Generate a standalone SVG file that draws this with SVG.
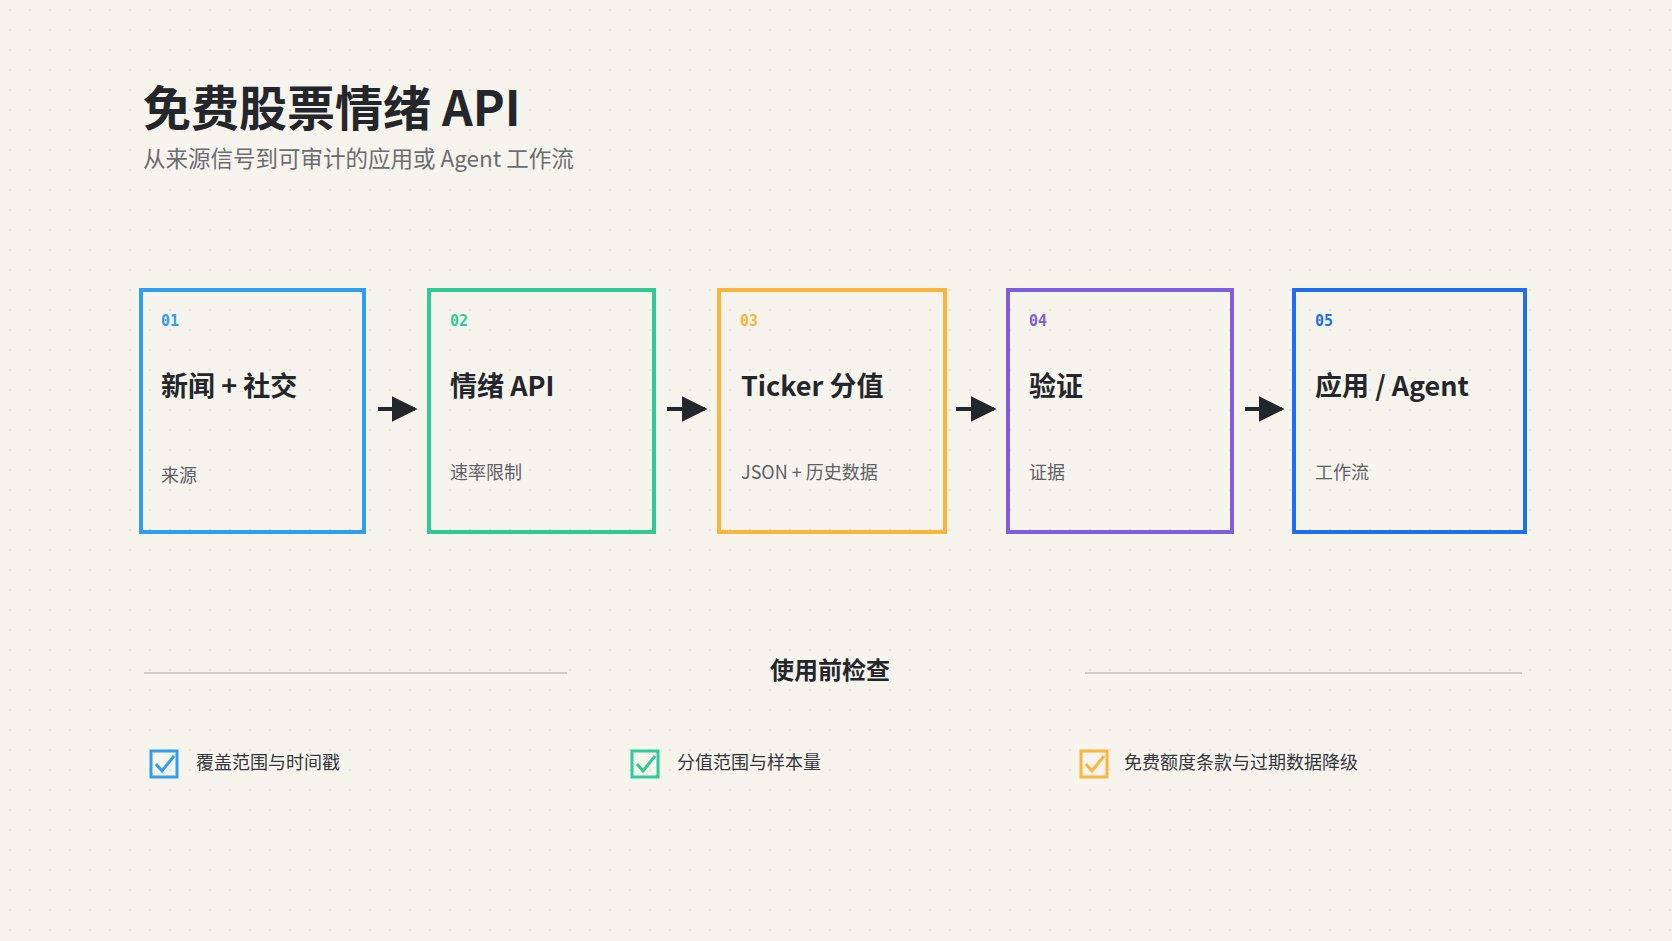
<svg xmlns="http://www.w3.org/2000/svg" width="1672" height="941" viewBox="0 0 1672 941">
<defs>
<pattern id="dots" width="20" height="20" patternUnits="userSpaceOnUse"><circle cx="10" cy="10" r="1" fill="#e3ded4"/></pattern>
<marker id="ah" viewBox="0 0 10 10" refX="9" refY="5" markerWidth="6.5" markerHeight="6.5" orient="auto" markerUnits="strokeWidth"><path d="M0,0 L10,5 L0,10 z" fill="#23262b"/></marker>
<style>
.f{font-family:"Noto Sans CJK SC","Noto Sans",sans-serif}
.num{font-family:"DejaVu Sans Mono",monospace;font-size:15px;font-weight:bold}
.t{font-size:27px;font-weight:bold;fill:#23262b}
.s{font-size:18px;fill:#5d6066}
.box{fill:none;stroke-width:4}
.ck{font-size:18px;fill:#33363b}
.cb{fill:none;stroke-width:3}
</style>
</defs>
<rect width="1672" height="941" fill="#f7f4ee"/>
<rect width="1672" height="941" fill="url(#dots)"/>
<text class="f" x="143" y="126" font-size="48" font-weight="bold" fill="#23262b">免费股票情绪 API</text>
<text class="f" x="143" y="167" font-size="22.5" fill="#6a6d72">从来源信号到可审计的应用或 Agent 工作流</text>
<g id="n1"><rect class="box" x="141" y="290" width="223" height="242" stroke="#2e9ef2"/><text class="num" x="161" y="326" fill="#2e9ef2">01</text><text class="f t" x="161" y="396">新闻 + 社交</text><text class="f s" x="161" y="482">来源</text></g>
<g id="n2"><rect class="box" x="429" y="290" width="225" height="242" stroke="#2fcb96"/><text class="num" x="450" y="326" fill="#2fcb96">02</text><text class="f t" x="450" y="396">情绪 API</text><text class="f s" x="450" y="479">速率限制</text></g>
<g id="n3"><rect class="box" x="719" y="290" width="226" height="242" stroke="#fcb43c"/><text class="num" x="740" y="326" fill="#fcb43c">03</text><text class="f t" x="741" y="396">Ticker 分值</text><text class="f s" x="741" y="479">JSON + 历史数据</text></g>
<g id="n4"><rect class="box" x="1008" y="290" width="224" height="242" stroke="#7d5de0"/><text class="num" x="1029" y="326" fill="#7d5de0">04</text><text class="f t" x="1029" y="396">验证</text><text class="f s" x="1029" y="479">证据</text></g>
<g id="n5"><rect class="box" x="1294" y="290" width="231" height="242" stroke="#1c6ff0"/><text class="num" x="1315" y="326" fill="#1c6ff0">05</text><text class="f t" x="1315" y="396">应用 / Agent</text><text class="f s" x="1315" y="479">工作流</text></g>
<g id="connectors" stroke="#23262b" stroke-width="4" marker-end="url(#ah)">
<line x1="378" y1="409" x2="415" y2="409"/>
<line x1="667" y1="409" x2="705" y2="409"/>
<line x1="956" y1="409" x2="994" y2="409"/>
<line x1="1245" y1="409" x2="1282" y2="409"/>
</g>
<g id="check">
<line x1="144" y1="673" x2="567" y2="673" stroke="#cfccc6" stroke-width="2"/>
<line x1="1085" y1="673" x2="1522" y2="673" stroke="#cfccc6" stroke-width="2"/>
<text class="f" x="830" y="679" text-anchor="middle" font-size="24" font-weight="bold" fill="#23262b">使用前检查</text>
<rect class="cb" x="151" y="751" width="26" height="26" stroke="#2e9ef2"/><path d="M156,764 l6,7 l12,-15" fill="none" stroke="#2e9ef2" stroke-width="3"/>
<text class="f ck" x="196" y="769">覆盖范围与时间戳</text>
<rect class="cb" x="632" y="751" width="26" height="26" stroke="#2fcb96"/><path d="M637,764 l6,7 l12,-15" fill="none" stroke="#2fcb96" stroke-width="3"/>
<text class="f ck" x="677" y="769">分值范围与样本量</text>
<rect class="cb" x="1081" y="751" width="26" height="26" stroke="#fcb43c"/><path d="M1086,764 l6,7 l12,-15" fill="none" stroke="#fcb43c" stroke-width="3"/>
<text class="f ck" x="1124" y="769">免费额度条款与过期数据降级</text>
</g>
</svg>
